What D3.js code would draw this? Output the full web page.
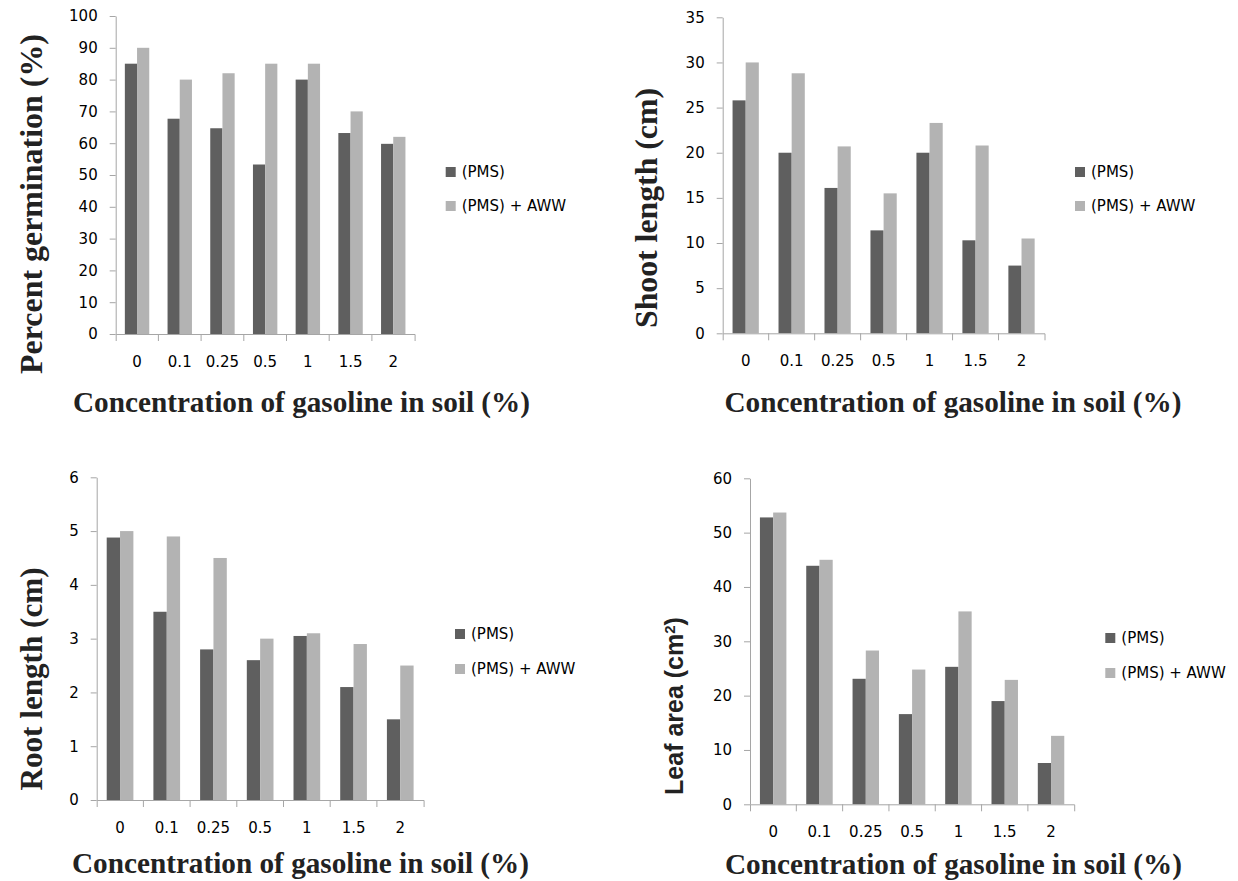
<!DOCTYPE html>
<html>
<head>
<meta charset="utf-8">
<script src="https://cdn.jsdelivr.net/npm/d3@7"></script>
<style>
  body { margin: 0; background: #fff; }
  svg { display: block; }
</style>
</head>
<body>
<div id="chart"></div>
<script>
// data
var concentrations = ["0", "0.1", "0.25", "0.5", "1", "1.5", "2"];
var seriesNames = ["(PMS)", "(PMS) + AWW"];

var germPMS = [85, 67.7, 64.7, 53.3, 80, 63.2, 59.8];
var germAWW = [90, 80, 82, 85, 85, 70, 62];
var germTicks = [0, 10, 20, 30, 40, 50, 60, 70, 80, 90, 100];

var shootPMS = [25.8, 20, 16.1, 11.4, 20, 10.3, 7.5];
var shootAWW = [30, 28.8, 20.7, 15.5, 23.3, 20.8, 10.5];
var shootTicks = [0, 5, 10, 15, 20, 25, 30, 35];

var rootPMS = [4.88, 3.5, 2.8, 2.6, 3.05, 2.1, 1.5];
var rootAWW = [5.0, 4.9, 4.5, 3.0, 3.1, 2.9, 2.5];
var rootTicks = [0, 1, 2, 3, 4, 5, 6];

var leafPMS = [52.8, 43.9, 23.1, 16.6, 25.3, 19.0, 7.6];
var leafAWW = [53.7, 45.0, 28.3, 24.8, 35.5, 22.9, 12.6];
var leafTicks = [0, 10, 20, 30, 40, 50, 60];

var xTitle = "Concentration of gasoline in soil (%)";

var colors = ["#5f5f5f", "#b3b3b3"];
var axisColor = "#a6a6a6";

var width = 1238, height = 881;

var svg = d3.select("#chart").append("svg")
  .attr("width", width)
  .attr("height", height);

function drawPanel(p) {
  var g = svg.append("g");

  var x = d3.scaleBand()
    .domain(concentrations)
    .range([p.x0, p.x1])
    .padding(0);

  // two bars per category, gap of 1.5 bar widths
  var xs = d3.scaleBand()
    .domain([0, 1])
    .range([0, x.bandwidth()])
    .paddingInner(0)
    .paddingOuter(0.75);

  var y = d3.scaleLinear()
    .domain([0, d3.max(p.ticks)])
    .range([p.yBot, p.yTop]);

  // bars
  [p.a, p.b].forEach(function(vals, si) {
    g.append("g").selectAll("rect")
      .data(vals)
      .enter()
      .append("rect")
        .attr("x", function(d, i) { return x(concentrations[i]) + xs(si); })
        .attr("y", function(d) { return y(d); })
        .attr("width", xs.bandwidth())
        .attr("height", function(d) { return y(0) - y(d); })
        .attr("fill", colors[si]);
  });

  // y axis
  var yAxis = g.append("g")
    .attr("transform", "translate(" + p.x0 + ",0)")
    .call(d3.axisLeft(y).tickValues(p.ticks).tickFormat(d3.format("d"))
      .tickSize(6).tickSizeOuter(0).tickPadding(12));
  yAxis.select(".domain").attr("stroke", axisColor);
  yAxis.selectAll(".tick line").attr("stroke", axisColor);
  yAxis.selectAll("text")
    .attr("fill", "#000")
    .style("font-family", "DejaVu Sans")
    .style("font-size", "15px");

  // x axis, labels centred, ticks on category boundaries
  var xAxis = g.append("g")
    .attr("transform", "translate(0," + p.yBot + ")")
    .call(d3.axisBottom(x).tickSize(0).tickSizeOuter(7).tickPadding(22));
  xAxis.select(".domain").attr("stroke", axisColor);
  xAxis.selectAll("text")
    .attr("fill", "#000")
    .style("font-family", "DejaVu Sans")
    .style("font-size", "15px");
  xAxis.selectAll(".bound")
    .data(d3.range(1, concentrations.length))
    .enter()
    .append("line")
      .attr("class", "bound")
      .attr("x1", function(i) { return p.x0 + i * x.step(); })
      .attr("x2", function(i) { return p.x0 + i * x.step(); })
      .attr("y1", 0)
      .attr("y2", 7)
      .attr("stroke", axisColor);

  // axis titles
  var yt = g.append("text")
    .attr("transform", "translate(" + p.ytX + "," + p.ytY + ") rotate(-90)")
    .attr("text-anchor", "middle")
    .attr("fill", "#222");
  if (p.sansTitle) {
    yt.style("font-family", "Liberation Sans").style("font-weight", "bold").style("font-size", "25px");
    yt.append("tspan").text(p.yTitle);
    yt.append("tspan").attr("baseline-shift", "super").style("font-size", "15px").text("2");
    yt.append("tspan").text(")");
  } else {
    yt.style("font-family", "Liberation Serif").style("font-weight", "bold").style("font-size", "32px")
      .attr("textLength", p.ytLen)
      .attr("lengthAdjust", "spacingAndGlyphs")
      .text(p.yTitle);
  }

  g.append("text")
    .attr("x", p.xtX)
    .attr("y", p.xtY)
    .attr("text-anchor", "middle")
    .attr("fill", "#222")
    .style("font-family", "Liberation Serif")
    .style("font-weight", "bold")
    .style("font-size", "30px")
    .attr("textLength", 457)
    .attr("lengthAdjust", "spacingAndGlyphs")
    .text(xTitle);

  // legend
  var leg = g.append("g").selectAll("g")
    .data(seriesNames)
    .enter()
    .append("g")
      .attr("transform", function(d, i) { return "translate(" + p.legX + "," + (p.legY + i * p.legGap) + ")"; });
  leg.append("rect")
    .attr("x", 0).attr("y", -5)
    .attr("width", 10).attr("height", 10)
    .attr("fill", function(d, i) { return colors[i]; });
  leg.append("text")
    .attr("x", 16)
    .attr("y", 5)
    .attr("fill", "#000")
    .style("font-family", "DejaVu Sans")
    .style("font-size", "15px")
    .text(function(d) { return d; });
}

drawPanel({ a: germPMS, b: germAWW, ticks: germTicks,
  x0: 115.7, x1: 414.6, yTop: 16, yBot: 334,
  yTitle: "Percent germination (%)", ytX: 42, ytY: 204, ytLen: 340,
  xtX: 301.5, xtY: 412, legX: 445.7, legY: 172, legGap: 34 });

drawPanel({ a: shootPMS, b: shootAWW, ticks: shootTicks,
  x0: 722.7, x1: 1044.5, yTop: 17.3, yBot: 333.3,
  yTitle: "Shoot length (cm)", ytX: 657, ytY: 208, ytLen: 240,
  xtX: 953, xtY: 412, legX: 1075, legY: 172, legGap: 34 });

drawPanel({ a: rootPMS, b: rootAWW, ticks: rootTicks,
  x0: 96.7, x1: 423.6, yTop: 477.3, yBot: 800,
  yTitle: "Root length (cm)", ytX: 42, ytY: 679, ytLen: 223,
  xtX: 300.5, xtY: 873, legX: 455, legY: 634, legGap: 35 });

drawPanel({ a: leafPMS, b: leafAWW, ticks: leafTicks,
  x0: 750, x1: 1074.2, yTop: 478.3, yBot: 804.3,
  yTitle: "Leaf area (cm", sansTitle: true, ytX: 683, ytY: 706,
  xtX: 953.5, xtY: 874, legX: 1105.3, legY: 638, legGap: 35 });
</script>
</body>
</html>
